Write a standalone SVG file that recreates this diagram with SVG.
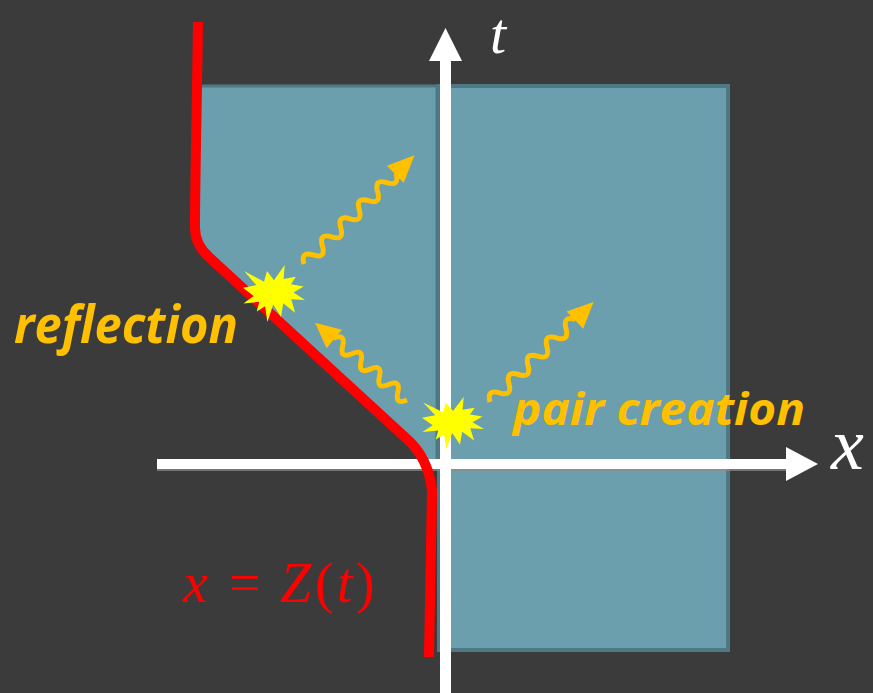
<svg xmlns="http://www.w3.org/2000/svg" xmlns:xlink="http://www.w3.org/1999/xlink" width="873" height="693" viewBox="0 0 873 693">
<style>
.region{fill:#6c9fae;stroke:#4f7885}
.axis{fill:#ffffff}
.photon{fill:none;stroke:#ffc000;stroke-width:5}
.head{fill:#ffc000}
.star{fill:#ffff00}
.label{fill:#ffc000;font-family:"Open Sans","Lato",sans-serif;font-weight:bold;font-style:italic}
.math{font-family:"Liberation Serif","DejaVu Serif",serif}
</style>
<defs>
<polygon id="seal" points="31,15.3 41.7,0 40.6,14.1 52.8,11.8 47.9,19.3 60.6,21.5 50.5,27.6 62,35.1 48.3,34.2 52.1,47.8 40.2,38.2 38,52.1 30.2,39.4 24.4,57 22.1,41.2 13.7,46.5 16.3,36.8 0.4,38.5 10.7,31.1 0,22.7 13.3,20.1 1.1,6.1 21,16.7 24,6.1"/>
</defs>
<rect width="873" height="693" fill="#3b3b3b"/>
<g id="region-left">
<path class="region" stroke-width="3" d="M197,86 L437,86 L437,464 L425,464 Q420,452 408,440 L210,258 Q195,245 195,228 C195,180 196,120 197,86 Z"/>
</g>
<g id="region-right">
<rect class="region" stroke-width="4" x="439" y="86" width="289" height="564"/>
</g>
<g id="axes">
<line x1="157" y1="470" x2="786" y2="470" stroke="#8a8a8a" stroke-width="1.5"/>
<rect class="axis" x="157" y="459" width="630" height="10"/>
<polygon class="axis" points="786,447 818,464 786,481"/>
<rect class="axis" x="440" y="59" width="11" height="634"/>
<polygon class="axis" points="429,61 445.5,28 462,61"/>
</g>
<g id="boundary">
<path d="M198,22 C197,100 195,180 195,228 Q195,245 210,258 L408,440 Q428,458 432,490 L429,657" fill="none" stroke="#ff0000" stroke-width="10" stroke-linejoin="round"/>
</g>
<g id="star-reflection">
<use xlink:href="#seal" class="star" transform="translate(243,265)"/>
</g>
<g id="star-pair">
<use xlink:href="#seal" class="star" transform="translate(422,397) scale(1,0.912)"/>
</g>
<g id="connectors">
<g transform="translate(304,264) rotate(-44.5)">
<path class="photon" d="M0,0 q6.45,-12 12.9,0 t12.9,0 t12.9,0 t12.9,0 t12.9,0 t12.9,0 t12.9,0 t12.9,0 t12.9,0 t12.9,0"/>
<polygon class="head" points="128,-12 155,0 128,12"/>
</g>
<g transform="translate(407,400) rotate(-140)">
<path class="photon" d="M0,0 q6,-12 12,0 t12,0 t12,0 t12,0 t12,0 t12,0 t12,0 t12,0"/>
<polygon class="head" points="95,-12 120,0 95,12"/>
</g>
<g transform="translate(490,402) rotate(-44)">
<path class="photon" d="M0,0 q6.6,-12 13.2,0 t13.2,0 t13.2,0 t13.2,0 t13.2,0 t13.2,0 t13.2,0 t13.2,0 t13.2,0"/>
<polygon class="head" points="118,-12 144,0 118,12"/>
</g>
</g>
<g id="labels">
<text class="label" x="14" y="343" font-size="52" textLength="224" lengthAdjust="spacingAndGlyphs">reflection</text>
<text class="label" x="513" y="425" font-size="44" textLength="292" lengthAdjust="spacingAndGlyphs">pair creation</text>
<text class="math" x="490" y="53" font-size="58" font-style="italic" fill="#ffffff">t</text>
<text class="math" x="831" y="469" font-size="74" font-style="italic" fill="#ffffff">x</text>
<text class="math" y="602" font-size="56" fill="#ff0000"><tspan x="183" font-style="italic">x</tspan><tspan x="229">=</tspan><tspan x="280" font-style="italic">Z</tspan><tspan x="315">(</tspan><tspan x="337" font-style="italic">t</tspan><tspan x="356">)</tspan></text>
</g>
</svg>
